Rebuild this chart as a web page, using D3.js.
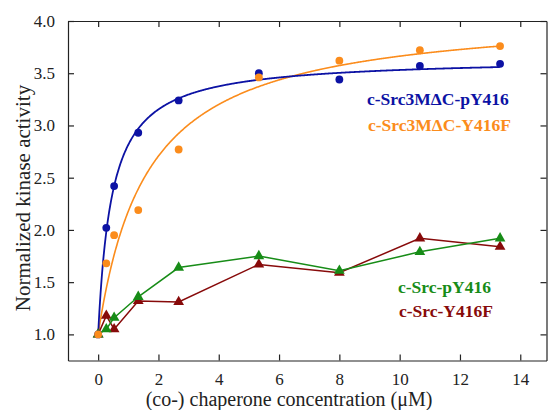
<!DOCTYPE html>
<html>
<head>
<meta charset="utf-8">
<script src="https://cdn.jsdelivr.net/npm/d3@7"></script>
<style>
  body { margin: 0; background: #fff; }
  svg { display: block; font-family: "Liberation Serif", "Times New Roman", serif; }
</style>
</head>
<body>
<div id="chart"></div>
<script>
// concentrations (uM)
const conc = [0, 0.27, 0.53, 1.33, 2.67, 5.33, 8, 10.67, 13.33];
// normalized kinase activity
const mdcPY416 = [1.0, 2.02, 2.42, 2.93, 3.24, 3.50, 3.44, 3.57, 3.59];
const mdcY416F = [1.0, 1.68, 1.95, 2.19, 2.77, 3.46, 3.62, 3.72, 3.76];
const srcPY416 = [1.0, 1.05, 1.16, 1.36, 1.64, 1.75, 1.61, 1.79, 1.92];
const srcY416F = [1.0, 1.18, 1.05, 1.32, 1.31, 1.67, 1.59, 1.92, 1.84];
// hyperbolic fit parameters (bmax, kd) estimated from the drawn curves
const fitPY416 = [2.647, 0.458];
const fitY416F = [3.097, 1.628];

const xTicks = [0, 2, 4, 6, 8, 10, 12, 14];
const yTicks = [1.0, 1.5, 2.0, 2.5, 3.0, 3.5, 4.0];

const W = 548, H = 410;
const mLeft = 68, mRight = 546.5, mTop = 21, mBottom = 360.5;

const svg = d3.select("#chart").append("svg")
  .attr("width", W).attr("height", H);

const x = d3.scaleLinear().domain([-1, 14.87]).range([mLeft, mRight]);
const y = d3.scaleLinear().domain([0.75, 4.0]).range([mBottom, mTop]);

//frame and ticks (inward on all sides)
const axisColor = "#222";
svg.append("g").attr("transform", `translate(0,${mBottom})`)
  .call(d3.axisBottom(x).tickValues(xTicks).tickSizeInner(-6).tickSizeOuter(0).tickPadding(12).tickFormat(d3.format("d")));
svg.append("g").attr("transform", `translate(0,${mTop})`)
  .call(d3.axisTop(x).tickValues(xTicks).tickSizeInner(-6).tickSizeOuter(0).tickFormat(""));
svg.append("g").attr("transform", `translate(${mLeft},0)`)
  .call(d3.axisLeft(y).tickValues(yTicks).tickSizeInner(-6).tickSizeOuter(0).tickPadding(13).tickFormat(d3.format(".1f")));
svg.append("g").attr("transform", `translate(${mRight},0)`)
  .call(d3.axisRight(y).tickValues(yTicks).tickSizeInner(-6).tickSizeOuter(0).tickFormat(""));

svg.selectAll(".domain").attr("stroke", axisColor).attr("stroke-width", 1.2);
svg.selectAll(".tick line").attr("stroke", axisColor).attr("stroke-width", 1.2);
svg.selectAll(".tick text").attr("fill", "#222")
  .style("font-family", "Liberation Serif, serif").style("font-size", "17px");

//axis titles
svg.append("text")
  .attr("x", 289).attr("y", 406)
  .attr("text-anchor", "middle")
  .attr("fill", "#222")
  .style("font-size", "20px")
  .text("(co-) chaperone concentration (\u03bcM)");
svg.append("text")
  .attr("transform", "translate(30,198) rotate(-90)")
  .attr("text-anchor", "middle")
  .attr("fill", "#222")
  .style("font-size", "21px")
  .text("Normalized kinase activity");

const blue = "#0c12a4", orange = "#fb8c1c", green = "#178c17", red = "#870a0a";

//fit curves
function fitLine(p) {
  const xs = d3.range(0, 13.34, 0.02);
  return xs.map(c => [c, 1 + p[0] * c / (p[1] + c)]);
}
const curve = d3.line().x(d => x(d[0])).y(d => y(d[1]));
svg.append("path").datum(fitLine(fitY416F))
  .attr("d", curve).attr("fill", "none").attr("stroke", orange).attr("stroke-width", 1.6);
svg.append("path").datum(fitLine(fitPY416))
  .attr("d", curve).attr("fill", "none").attr("stroke", blue).attr("stroke-width", 1.8);

//connected triangle series
const seg = d3.line().x((d, i) => x(conc[i])).y(d => y(d));
const tri = d3.symbol().type(d3.symbolTriangle).size(50);
[[srcY416F, red], [srcPY416, green]].forEach(([vals, col]) => {
  svg.append("path").datum(vals)
    .attr("d", seg).attr("fill", "none").attr("stroke", col).attr("stroke-width", 1.5);
  svg.append("g").selectAll("path").data(vals).enter().append("path")
    .attr("d", tri)
    .attr("transform", (d, i) => `translate(${x(conc[i])},${y(d)})`)
    .attr("fill", col);
});

//circle series
[[mdcPY416, blue], [mdcY416F, orange]].forEach(([vals, col]) => {
  svg.append("g").selectAll("circle").data(vals).enter().append("circle")
    .attr("cx", (d, i) => x(conc[i]))
    .attr("cy", d => y(d))
    .attr("r", 3.9)
    .attr("fill", col);
});

//legend labels
const labels = [
  ["c-Src3M\u0394C-pY416", blue, 367, 104.5],
  ["c-Src3M\u0394C-Y416F", orange, 368, 130.5],
  ["c-Src-pY416", green, 398, 292.5],
  ["c-Src-Y416F", red, 399, 316.5]
];
svg.selectAll(".lab").data(labels).enter().append("text")
  .attr("class", "lab")
  .attr("x", d => d[2]).attr("y", d => d[3])
  .attr("fill", d => d[1])
  .style("font-size", "17.5px")
  .style("font-weight", "bold")
  .text(d => d[0]);
</script>
</body>
</html>
